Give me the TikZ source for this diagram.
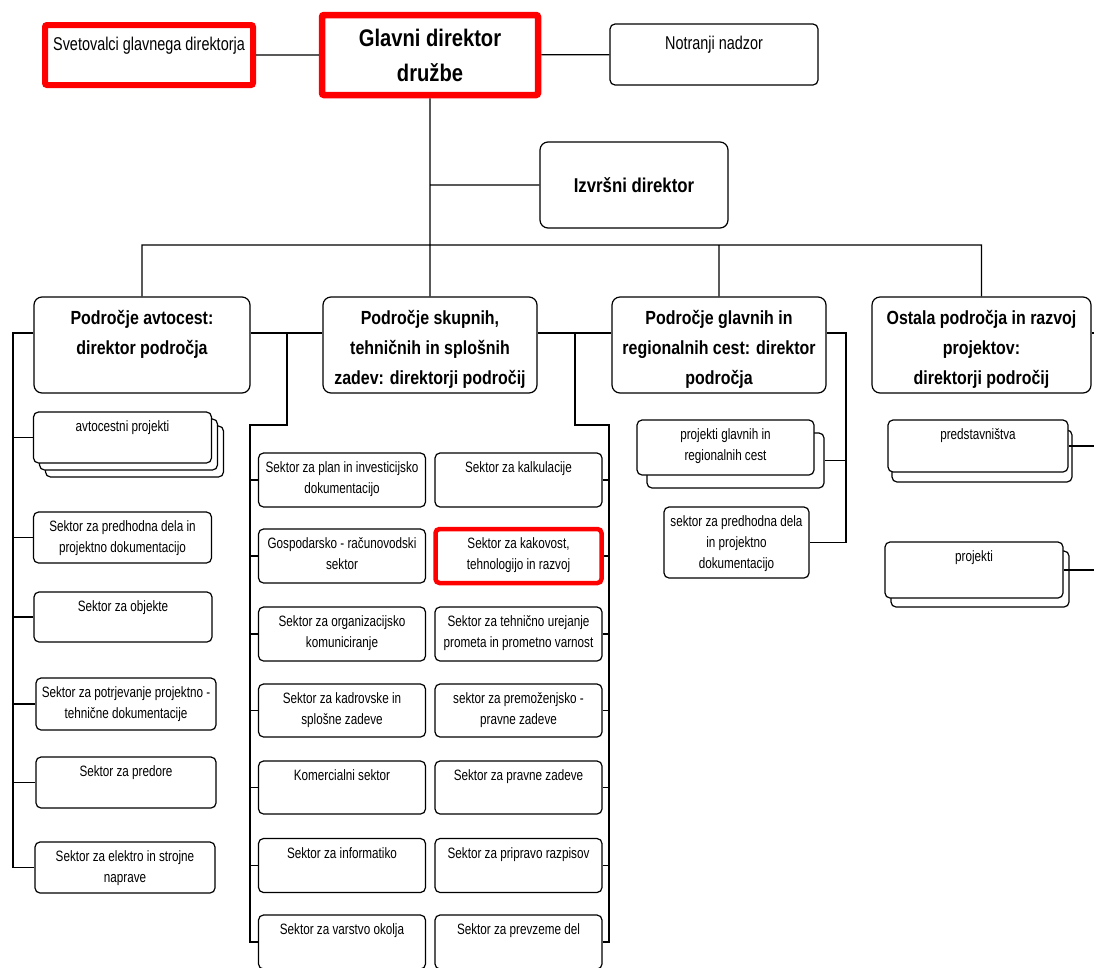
\documentclass[tikz,border=0pt]{standalone}
\usepackage{fontspec}
\usetikzlibrary{shadows}
\newfontfamily\smfont[FakeStretch=0.78]{Liberation Sans}
\newfontfamily\hdfont[FakeStretch=0.84]{Liberation Sans}
\newcommand{\toptext}[3]{\parbox[c][#2][t]{#1}{\centering\strut #3}}

\begin{document}
\begin{tikzpicture}[x=1pt, y=-1pt]

    \tikzstyle{unit}=[draw, line width=1.2pt, rounded corners=5pt, fill=white,
                      inner xsep=0pt, inner ysep=5pt, font=\smfont\fontsize{15}{21}\selectfont]
    \tikzstyle{head}=[unit, rounded corners=8pt, inner ysep=6pt,
                      font=\hdfont\bfseries\fontsize{19}{30}\selectfont]
    \tikzstyle{staff}=[unit, inner ysep=10pt, font=\smfont\fontsize{18.5}{22}\selectfont]
    \tikzstyle{redbox}=[draw=red, line width=6pt, rounded corners=2pt]
    \tikzstyle{conn}=[line width=1.2pt]

    \useasboundingbox (0,0) rectangle (1094,967);
    \clip (0,0) rectangle (1094,967);

    % vrh
    \node[staff, redbox] (sv) at (149,55) {\toptext{208pt}{40pt}{Svetovalci glavnega direktorja}};
    \node[unit, redbox, line width=6.5pt, inner sep=0pt, minimum width=216pt, minimum height=80pt,
          align=center, font=\hdfont\bfseries\fontsize{24}{35}\selectfont] (gd) at (430,55) {Glavni direktor\\družbe};
    \node[staff] (nn) at (714,54.5) {\toptext{208pt}{41pt}{Notranji nadzor}};
    \node[unit, rounded corners=8pt, inner sep=0pt, minimum width=188pt, minimum height=86pt,
          font=\hdfont\bfseries\fontsize{20}{24}\selectfont] (iz) at (634,185) {Izvršni direktor};

    % podrocja
    \node[head] (av)  at (142,345)   {\toptext{216pt}{84pt}{Področje avtocest:\\direktor področja}};
    \node[head] (sk)  at (430,345)   {\toptext{214pt}{84pt}{Področje skupnih,\\tehničnih in splošnih\\zadev: direktorji področij}};
    \node[head] (gl)  at (719,345)   {\toptext{214pt}{84pt}{Področje glavnih in\\regionalnih cest: direktor\\področja}};
    \node[head] (ost) at (981.5,345) {\toptext{219pt}{84pt}{Ostala področja in razvoj\\projektov:\\direktorji področij}};

    % avtoceste
    \node[unit, double copy shadow={shadow xshift=6pt, shadow yshift=-7pt}] (avp) at (122.5,437.5) {\toptext{178pt}{41pt}{avtocestni projekti}};
    \node[unit] (pdd)  at (122.5,537.5) {\toptext{178pt}{41pt}{Sektor za predhodna dela in\\projektno dokumentacijo}};
    \node[unit] (obj)  at (123,617)     {\toptext{178pt}{40pt}{Sektor za objekte}};
    \node[unit] (ptd)  at (126,704)     {\toptext{180pt}{42pt}{Sektor za potrjevanje projektno -\\tehnične dokumentacije}};
    \node[unit] (pred) at (126,782.5)   {\toptext{180pt}{41pt}{Sektor za predore}};
    \node[unit] (elek) at (125,867.5)   {\toptext{180pt}{41pt}{Sektor za elektro in strojne\\naprave}};

    % skupne zadeve
    \node[unit] (pla)  at (342,480)   {\toptext{167pt}{44pt}{Sektor za plan in investicijsko\\dokumentacijo}};
    \node[unit] (kal)  at (518.5,480) {\toptext{167pt}{44pt}{Sektor za kalkulacije}};
    \node[unit] (gos)  at (342,556)   {\toptext{167pt}{44pt}{Gospodarsko - računovodski\\sektor}};
    \node[unit, redbox, line width=4.5pt, rounded corners=4pt] (kak) at (518.5,556) {\toptext{166pt}{44pt}{Sektor za kakovost,\\tehnologijo in razvoj}};
    \node[unit] (org)  at (342,634)   {\toptext{167pt}{44pt}{Sektor za organizacijsko\\komuniciranje}};
    \node[unit] (prom) at (518.5,634) {\toptext{167pt}{44pt}{Sektor za tehnično urejanje\\prometa in prometno varnost}};
    \node[unit] (kad)  at (342,710.5) {\toptext{167pt}{43pt}{Sektor za kadrovske in\\splošne zadeve}};
    \node[unit] (prem) at (518.5,710.5) {\toptext{167pt}{43pt}{sektor za premoženjsko -\\pravne zadeve}};
    \node[unit] (kom)  at (342,787.5) {\toptext{167pt}{43pt}{Komercialni sektor}};
    \node[unit] (pra)  at (518.5,787.5) {\toptext{167pt}{43pt}{Sektor za pravne zadeve}};
    \node[unit] (inf)  at (342,865.5) {\toptext{167pt}{44pt}{Sektor za informatiko}};
    \node[unit] (raz)  at (518.5,865.5) {\toptext{167pt}{44pt}{Sektor za pripravo razpisov}};
    \node[unit] (var)  at (342,942)   {\toptext{167pt}{44pt}{Sektor za varstvo okolja}};
    \node[unit] (prev) at (518.5,942) {\toptext{167pt}{44pt}{Sektor za prevzeme del}};

    % glavne in regionalne ceste
    \node[unit, copy shadow={shadow xshift=10pt, shadow yshift=-13pt}] (pgc) at (725.5,447.5) {\toptext{177pt}{45pt}{projekti glavnih in\\regionalnih cest}};
    \node[unit] (spd) at (736.5,542.5) {\toptext{145pt}{61pt}{sektor za predhodna dela\\in projektno\\dokumentacijo}};

    % ostala podrocja
    \node[unit, copy shadow={shadow xshift=4pt, shadow yshift=-10pt}] (pst) at (978,446) {\toptext{180pt}{42pt}{predstavništva}};
    \node[unit, copy shadow={shadow xshift=6pt, shadow yshift=-9pt}]  (prj) at (974,570) {\toptext{178pt}{46pt}{projekti}};

    \coordinate (hub)  at (430,245);
    \coordinate (lbus) at (13,333);
    \coordinate (mjl)  at (287,333);
    \coordinate (mbl)  at (250,425);
    \coordinate (mjr)  at (575,333);
    \coordinate (mbr)  at (609,425);
    \coordinate (gbus) at (846,333);
    \coordinate (pgs)  at ([shift={(10pt,-13pt)}]pgc.east);
    \coordinate (oe)   at (1094,333);

    \draw[conn] (sv) -- (gd)
                (gd) -- (nn)
                (gd.south) -- (sk.north)
                (gd.south |- iz.west) -- (iz.west)
                (av.north) |- (hub) -| (ost.north)
                (gl.north) -- (gl.north |- hub);

    \draw[conn] ([yshift=12pt]av.west) -- (lbus) |- (elek.west)
                (lbus |- avp.west)  -- (avp.west)
                (lbus |- pdd.west)  -- (pdd.west)
                (lbus |- obj.west)  -- (obj.west)
                (lbus |- ptd.west)  -- (ptd.west)
                (lbus |- pred.west) -- (pred.west);

    \draw[conn] ([yshift=12pt]av.east) -- ([yshift=12pt]sk.west)
                (mjl) |- (mbl) |- (var.west)
                (mbl |- pla.west) -- (pla.west)
                (mbl |- gos.west) -- (gos.west)
                (mbl |- org.west) -- (org.west)
                (mbl |- kad.west) -- (kad.west)
                (mbl |- kom.west) -- (kom.west)
                (mbl |- inf.west) -- (inf.west);

    \draw[conn] ([yshift=12pt]sk.east) -- ([yshift=12pt]gl.west)
                (mjr) |- (mbr) |- (prev.east)
                (mbr |- kal.east)  -- (kal.east)
                (mbr |- kak.east)  -- (kak.east)
                (mbr |- prom.east) -- (prom.east)
                (mbr |- prem.east) -- (prem.east)
                (mbr |- pra.east)  -- (pra.east)
                (mbr |- raz.east)  -- (raz.east);

    \draw[conn] ([yshift=12pt]gl.east) -- (gbus) |- (spd.east)
                (gbus |- pgs) -- (pgs)
                ([yshift=12pt]ost.east) -- (oe)
                (pst.east) -- (pst.east -| oe)
                (prj.east) -- (prj.east -| oe);

\end{tikzpicture}
\end{document}
